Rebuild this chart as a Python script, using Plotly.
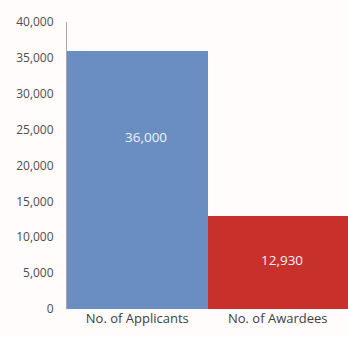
import plotly.graph_objects as go

categories = ["No. of Applicants", "No. of Awardees"]
values = [36000, 12930]
bar_colors = ["#6a8ec2", "#c7302b"]
label_texts = ["36,000", "12,930"]
label_frac = [0.665, 0.53]
y_ticks = [0, 5000, 10000, 15000, 20000, 25000, 30000, 35000, 40000]
y_tick_labels = ["0", "5,000", "10,000", "15,000", "20,000", "25,000", "30,000", "35,000", "40,000"]

fig = go.Figure()
fig.add_trace(go.Bar(
    x=categories, y=values,
    marker=dict(color=bar_colors, line=dict(width=0)),
    hoverinfo="skip",
))

for cat, v, t, f in zip(categories, values, label_texts, label_frac):
    fig.add_annotation(x=cat, y=v * f, text=t, showarrow=False,
                       xshift=9 if v == values[0] else 4,
                       font=dict(family="Open Sans", size=13.5, color="#eef2fa"))

fig.update_layout(
    width=348, height=337,
    margin=dict(l=67, r=0, t=22, b=28),
    paper_bgcolor="#fffcfb", plot_bgcolor="#fffcfb",
    bargap=0,
    showlegend=False,
    font=dict(family="Open Sans", size=11, color="#595959"),
)
fig.update_xaxes(showline=False, showgrid=False, ticks="",
                 tickfont=dict(family="Open Sans", size=13, color="#404040"))
fig.update_yaxes(range=[0, 40000], tickvals=y_ticks, ticktext=y_tick_labels,
                 showgrid=False, zeroline=False, showline=True,
                 linecolor="#a6a6a6", linewidth=1, ticks="",
                 ticklabelstandoff=10,
                 tickfont=dict(family="Open Sans", size=12, color="#4d4d4d"))

fig.write_html(
    "out.html",
    config={"displayModeBar": False},
    post_script="document.body.style.margin='0px';document.body.style.overflow='hidden';document.documentElement.style.overflow='hidden';",
)
